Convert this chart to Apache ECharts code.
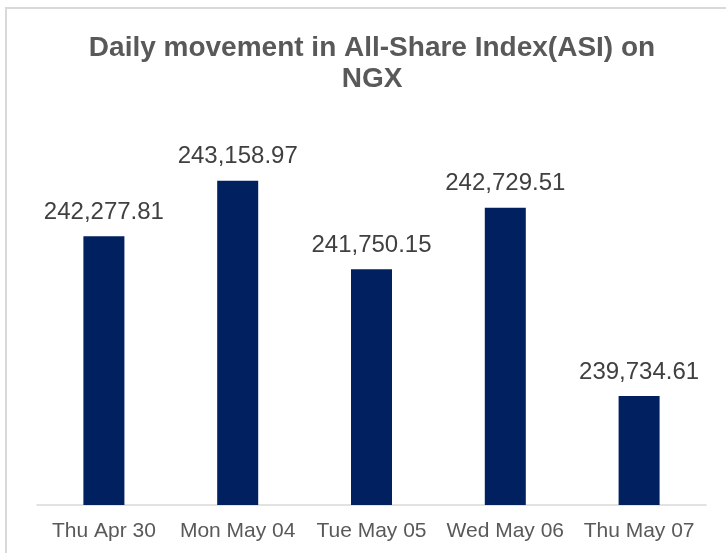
<!DOCTYPE html>
<html>
<head>
<meta charset="utf-8">
<script src="https://cdn.jsdelivr.net/npm/echarts@6/dist/echarts.min.js"></script>
<style>
  html, body { margin: 0; padding: 0; background: #fff; }
  #chart { width: 726px; height: 553px; }
</style>
</head>
<body>
<div id="chart"></div>
<script>
// ASI daily closes on NGX
var days = ['Thu Apr 30', 'Mon May 04', 'Tue May 05', 'Wed May 06', 'Thu May 07'];
var asi = [242277.81, 243158.97, 241750.15, 242729.51, 239734.61];

var chart = echarts.init(document.getElementById('chart'));

function fmt(v) {
  return v.toLocaleString('en-US', { minimumFractionDigits: 2, maximumFractionDigits: 2 });
}

chart.setOption({
  backgroundColor: '#ffffff',
  animation: false,
  graphic: [
    {
      type: 'rect',
      shape: { x: 6, y: 8, width: 740, height: 560 },
      style: { fill: 'none', stroke: '#d9d9d9', lineWidth: 2 }
    }
  ],
  title: {
    text: 'Daily movement in All-Share Index(ASI) on\nNGX',
    left: 367,
    textAlign: 'center',
    top: 28,
    textStyle: {
      fontFamily: 'Liberation Sans',
      fontSize: 28,
      fontWeight: 'bold',
      color: '#595959',
      lineHeight: 31
    }
  },
  grid: {
    left: 37,
    right: 20,
    top: 128,
    bottom: 48
  },
  xAxis: {
    type: 'category',
    data: days,
    axisLine: { lineStyle: { color: '#d9d9d9', width: 1.5 } },
    axisTick: { show: false },
    axisLabel: {
      interval: 0,
      fontFamily: 'Liberation Sans',
      fontSize: 21,
      color: '#595959',
      margin: 16
    }
  },
  yAxis: {
    type: 'value',
    min: 238000,
    max: 244000,
    show: false,
    splitLine: { show: false }
  },
  series: [
    {
      type: 'bar',
      data: asi,
      barWidth: 41,
      itemStyle: { color: '#002060' },
      label: {
        show: true,
        position: 'top',
        distance: 12,
        fontFamily: 'Liberation Sans',
        fontSize: 24,
        color: '#404040',
        formatter: function (p) { return fmt(p.value); }
      }
    }
  ]
});
</script>
</body>
</html>
